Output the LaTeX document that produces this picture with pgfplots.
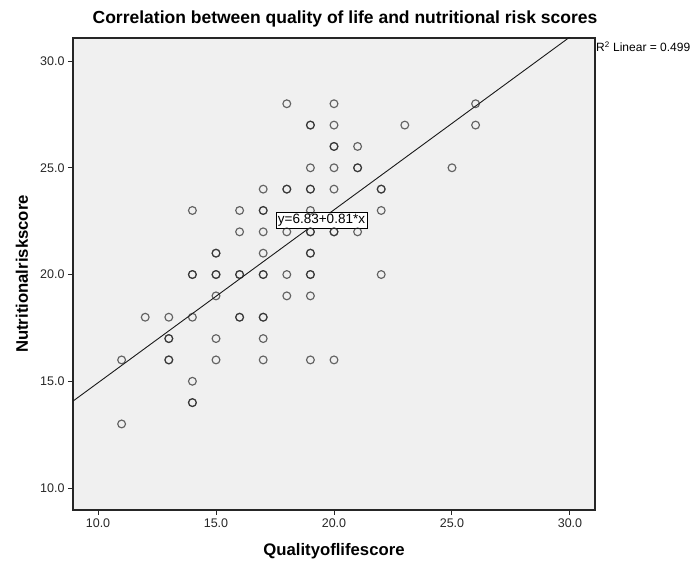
\documentclass[border=0pt]{standalone}
\usepackage{fontspec}
\setmainfont{Liberation Sans}
\usepackage{pgfplots}
\pgfplotsset{compat=1.18}
\usetikzlibrary{calc}
\begin{document}
\begin{tikzpicture}
\begin{axis}[
  width=522pt, height=472pt, scale only axis,
  xmin=8.94, xmax=31.06, ymin=8.97, ymax=31.08,
  xtick={10,15,20,25,30}, ytick={10,15,20,25,30},
  axis background/.style={fill=black!6},
  axis line style={black!85, line width=1.2pt},
  tick align=outside, tick pos=left, major tick length=5pt,
  tick style={black!85, line width=1pt},
  /pgf/number format/fixed, /pgf/number format/fixed zerofill,
  /pgf/number format/precision=1,
  /pgf/number format/assume math mode=true,
  ticklabel style={font=\fontsize{12.5}{14}\selectfont, text=black!85},
  xlabel={Qualityoflifescore}, ylabel={Nutritionalriskscore},
  xlabel style={font=\bfseries\fontsize{16.7}{18}\selectfont, at={(axis description cs:0.5,0)}, anchor=center, yshift=-41pt},
  ylabel style={font=\bfseries\fontsize{16.7}{18}\selectfont, at={(axis description cs:-0.0977,0.5)}, anchor=center, rotate=0},
  title={Correlation between quality of life and nutritional risk scores},
  title style={font=\bfseries\fontsize{17.5}{20}\selectfont, at={(axis description cs:0.5,1)}, anchor=center, yshift=13pt, xshift=11pt},
]
\addplot[only marks, mark=o, mark size=3.9pt, mark options={draw=black!85, line width=1.15pt, draw opacity=0.7}] coordinates {
(18,28) (20,28) (26,28)
(19,27) (19,27) (20,27) (23,27) (26,27)
(20,26) (20,26) (21,26)
(19,25) (20,25) (21,25) (21,25) (25,25)
(17,24) (18,24) (18,24) (19,24) (19,24) (20,24) (22,24) (22,24)
(14,23) (16,23) (17,23) (17,23) (19,23) (22,23)
(16,22) (17,22) (18,22) (19,22) (19,22) (20,22) (20,22) (21,22)
(15,21) (15,21) (17,21) (19,21) (19,21)
(14,20) (14,20) (15,20) (15,20) (16,20) (16,20) (17,20) (17,20) (18,20) (19,20) (19,20) (22,20)
(15,19) (18,19) (19,19)
(12,18) (13,18) (14,18) (16,18) (16,18) (17,18) (17,18)
(13,17) (13,17) (15,17) (17,17)
(11,16) (13,16) (13,16) (15,16) (17,16) (19,16) (20,16)
(14,15)
(14,14) (14,14)
(11,13)
};
\addplot[black!90, line width=0.9pt] coordinates {(8.94,14.0714) (31.06,31.9886)};
\node[draw=black, fill=white, line width=0.8pt, inner sep=2pt, font=\fontsize{13.5}{15}\selectfont] at (axis cs:19.47,22.55) {y=6.83+0.81*x};
\coordinate (sw) at (rel axis cs:0,0);
\coordinate (ne) at (rel axis cs:1,1);
\end{axis}
\node[anchor=west, inner sep=0pt, font=\fontsize{12}{13}\selectfont] at ($(ne)+(1pt,-9pt)$) {R\textsuperscript{2} Linear = 0.499};
\pgfresetboundingbox
\path[use as bounding box] ($(sw)+(-73pt,-51pt)$) rectangle ($(ne)+(95pt,38pt)$);
\end{tikzpicture}
\end{document}
